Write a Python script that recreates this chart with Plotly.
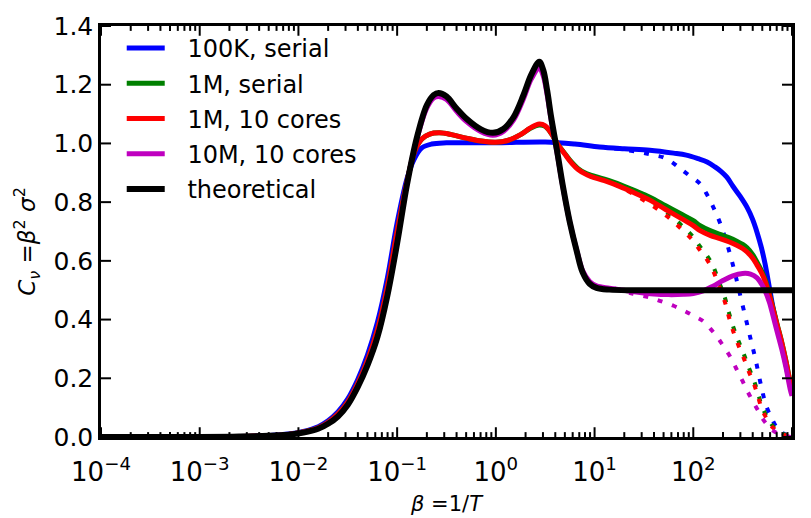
import numpy as np
import plotly.graph_objects as go

# ---------------- data: log10(beta) and C_v ----------------
th_logb = [-4.0, -3.0, -2.6, -2.3, -2.1, -1.95, -1.8, -1.7, -1.6, -1.5, -1.4, -1.3, -1.2, -1.1, -1.0, -0.9,
           -0.8, -0.7, -0.63, -0.58, -0.5, -0.4, -0.3, -0.15, -0.03, 0.08, 0.18, 0.28, 0.36, 0.44, 0.48,
           0.52, 0.56, 0.62, 0.68, 0.75, 0.82, 0.88, 0.95, 1.02, 1.15, 1.4, 2.0, 3.0]
th_cv = [0.0, 0.0003, 0.0015, 0.004, 0.008, 0.015, 0.028, 0.045, 0.07, 0.11, 0.17, 0.245, 0.34, 0.48, 0.66,
         0.86, 1.02, 1.13, 1.165, 1.172, 1.16, 1.12, 1.085, 1.048, 1.036, 1.05, 1.09, 1.165, 1.235, 1.278,
         1.25, 1.18, 1.09, 0.975, 0.853, 0.73, 0.632, 0.56, 0.522, 0.508, 0.502, 0.5, 0.5, 0.5]

m10_logb = [-4.0, -3.0, -2.6, -2.3, -2.1, -1.95, -1.8, -1.7, -1.6, -1.5, -1.4, -1.3, -1.2, -1.1, -1.0, -0.9,
            -0.8, -0.7, -0.63, -0.58, -0.5, -0.4, -0.3, -0.15, -0.03, 0.08, 0.18, 0.28, 0.36, 0.44, 0.48,
            0.52, 0.56, 0.62, 0.68, 0.75, 0.82, 0.88, 0.95, 1.02, 1.15, 1.3, 1.46, 1.6, 1.75, 1.9, 2.0,
            2.1, 2.2, 2.3, 2.4, 2.5, 2.58, 2.646, 2.7, 2.727, 2.77, 2.811, 2.85, 2.897, 2.94, 2.981, 3.0]
m10_cv = [0.0, 0.0003, 0.0016, 0.0042, 0.0085, 0.016, 0.029, 0.047, 0.072, 0.113, 0.174, 0.25, 0.345, 0.487,
          0.668, 0.865, 1.015, 1.12, 1.155, 1.16, 1.15, 1.11, 1.075, 1.04, 1.028, 1.042, 1.08, 1.152, 1.22,
          1.256, 1.23, 1.165, 1.08, 0.968, 0.85, 0.73, 0.635, 0.566, 0.53, 0.515, 0.507, 0.5, 0.492, 0.487,
          0.485, 0.486, 0.489, 0.498, 0.514, 0.533, 0.549, 0.557, 0.555, 0.542, 0.516, 0.498, 0.46, 0.409,
          0.358, 0.298, 0.235, 0.164, 0.14]
m10_dot_logb = [1.2, 1.39, 1.55, 1.66, 1.8, 1.93, 2.02, 2.1, 2.17, 2.24, 2.3, 2.37, 2.44, 2.5, 2.55, 2.606,
                2.66, 2.707, 2.78, 2.849, 2.92, 3.0]
m10_dot_cv = [0.506, 0.488, 0.476, 0.464, 0.447, 0.426, 0.41, 0.395, 0.37, 0.342, 0.312, 0.276, 0.23, 0.19,
              0.155, 0.12, 0.088, 0.06, 0.03, 0.013, 0.004, 0.0]

k100_logb = [-4.0, -3.0, -2.6, -2.3, -2.1, -1.95, -1.8, -1.7, -1.6, -1.5, -1.4, -1.3, -1.2, -1.1, -1.0, -0.9,
             -0.83, -0.75, -0.65, -0.5, 0.0, 0.5, 0.8, 1.05, 1.3, 1.56, 1.8, 1.93, 2.05, 2.14, 2.22, 2.28,
             2.34, 2.4, 2.47, 2.545, 2.6, 2.646, 2.69, 2.727, 2.77, 2.811, 2.85, 2.897, 2.94, 2.97, 3.0]
k100_cv = [0.0, 0.0005, 0.002, 0.005, 0.01, 0.019, 0.035, 0.055, 0.085, 0.13, 0.195, 0.28, 0.39, 0.54,
           0.73, 0.88, 0.945, 0.985, 0.998, 1.002, 1.002, 1.005, 0.998, 0.988, 0.982, 0.977, 0.967, 0.96,
           0.948, 0.937, 0.92, 0.905, 0.885, 0.855, 0.822, 0.782, 0.742, 0.697, 0.645, 0.59, 0.51, 0.435,
           0.375, 0.31, 0.245, 0.195, 0.165]
k100_dot_logb = [1.2, 1.46, 1.6, 1.7, 1.8, 1.87, 1.95, 2.07, 2.14, 2.2, 2.27, 2.34, 2.41, 2.46, 2.52, 2.58,
                 2.63, 2.69, 2.74, 2.8, 2.85, 2.9, 2.95, 3.0]
k100_dot_cv = [0.983, 0.97, 0.96, 0.952, 0.932, 0.914, 0.893, 0.862, 0.825, 0.785, 0.73, 0.66, 0.575, 0.505,
               0.42, 0.335, 0.265, 0.17, 0.105, 0.06, 0.03, 0.015, 0.006, 0.0]

m1c_logb = [-4.0, -3.0, -2.6, -2.3, -2.1, -1.95, -1.8, -1.7, -1.6, -1.5, -1.4, -1.3, -1.2, -1.1, -1.0, -0.9,
            -0.82, -0.75, -0.67, -0.57, -0.45, -0.3, -0.15, 0.0, 0.12, 0.25, 0.35, 0.44, 0.5, 0.56, 0.63,
            0.7, 0.77, 0.83, 0.9, 0.96, 1.1, 1.258, 1.4, 1.56, 1.72, 1.89, 2.0, 2.069, 2.17, 2.27, 2.36,
            2.44, 2.5, 2.542, 2.6, 2.643, 2.69, 2.727, 2.77, 2.811, 2.85, 2.897, 2.94, 2.981, 3.0]
m1c_cv = [0.0, 0.0004, 0.0018, 0.0045, 0.009, 0.017, 0.031, 0.05, 0.078, 0.12, 0.182, 0.262, 0.365, 0.51,
          0.7, 0.87, 0.975, 1.015, 1.032, 1.036, 1.03, 1.018, 1.008, 1.004, 1.01, 1.03, 1.053, 1.066, 1.06,
          1.035, 0.995, 0.963, 0.932, 0.912, 0.897, 0.888, 0.873, 0.853, 0.832, 0.807, 0.775, 0.742, 0.72,
          0.703, 0.687, 0.676, 0.665, 0.653, 0.642, 0.631, 0.61, 0.587, 0.56, 0.531, 0.483, 0.431, 0.38,
          0.32, 0.255, 0.187, 0.165]
m1c_dot_logb = [1.2, 1.3, 1.46, 1.6, 1.73, 1.83, 1.93, 2.0, 2.07, 2.14, 2.2, 2.27, 2.32, 2.36, 2.41, 2.46,
                2.51, 2.56, 2.61, 2.65, 2.69, 2.74, 2.81, 2.91, 3.0]
m1c_dot_cv = [0.862, 0.845, 0.814, 0.785, 0.753, 0.724, 0.692, 0.668, 0.635, 0.603, 0.567, 0.505, 0.46,
              0.41, 0.355, 0.31, 0.27, 0.225, 0.185, 0.145, 0.1, 0.065, 0.031, 0.009, 0.0]

m1s_logb = [-4.0, -3.0, -2.6, -2.3, -2.1, -1.95, -1.8, -1.7, -1.6, -1.5, -1.4, -1.3, -1.2, -1.1, -1.0, -0.9,
            -0.82, -0.75, -0.67, -0.57, -0.45, -0.3, -0.15, 0.0, 0.12, 0.25, 0.35, 0.44, 0.5, 0.56, 0.63,
            0.7, 0.77, 0.83, 0.9, 0.96, 1.1, 1.258, 1.4, 1.56, 1.72, 1.89, 2.0, 2.069, 2.17, 2.27, 2.36,
            2.44, 2.5, 2.542, 2.6, 2.643, 2.69, 2.727, 2.77, 2.811, 2.85, 2.897, 2.94, 2.981, 3.0]
m1s_cv = [0.0, 0.0004, 0.0018, 0.0045, 0.009, 0.017, 0.031, 0.05, 0.078, 0.12, 0.182, 0.262, 0.365, 0.51,
          0.7, 0.87, 0.975, 1.015, 1.032, 1.036, 1.03, 1.018, 1.008, 1.004, 1.01, 1.03, 1.052, 1.063, 1.058,
          1.035, 0.996, 0.965, 0.935, 0.915, 0.9, 0.892, 0.878, 0.86, 0.84, 0.817, 0.788, 0.757, 0.737,
          0.72, 0.703, 0.69, 0.679, 0.667, 0.656, 0.645, 0.622, 0.597, 0.567, 0.537, 0.488, 0.435, 0.383,
          0.322, 0.257, 0.188, 0.165]
m1s_dot_logb = [1.2, 1.3, 1.46, 1.6, 1.73, 1.83, 1.93, 2.0, 2.07, 2.14, 2.2, 2.27, 2.32, 2.36, 2.41, 2.46,
                2.51, 2.56, 2.61, 2.65, 2.69, 2.74, 2.81, 2.91, 3.0]
m1s_dot_cv = [0.864, 0.85, 0.822, 0.795, 0.765, 0.737, 0.705, 0.681, 0.648, 0.617, 0.582, 0.52, 0.475,
              0.425, 0.37, 0.325, 0.284, 0.238, 0.197, 0.156, 0.11, 0.073, 0.036, 0.011, 0.0]

x_major = [1e-4, 1e-3, 1e-2, 1e-1, 1e0, 1e1, 1e2, 1e3]
x_ticktext = ["10<sup>\u22124</sup>", "10<sup>\u22123</sup>", "10<sup>\u22122</sup>", "10<sup>\u22121</sup>",
              "10<sup>0</sup>", "10<sup>1</sup>", "10<sup>2</sup>", "10<sup>3</sup>"]
x_minor = [m * 10.0 ** e for e in range(-4, 3) for m in range(2, 10)]
y_major = [0.0, 0.2, 0.4, 0.6, 0.8, 1.0, 1.2, 1.4]

series = [
    ("100K, serial", "#0000FF", k100_logb, k100_cv, k100_dot_logb, k100_dot_cv),
    ("1M, serial", "#008000", m1s_logb, m1s_cv, m1s_dot_logb, m1s_dot_cv),
    ("1M, 10 cores", "#FF0000", m1c_logb, m1c_cv, m1c_dot_logb, m1c_dot_cv),
    ("10M, 10 cores", "#BF00BF", m10_logb, m10_cv, m10_dot_logb, m10_dot_cv),
]

pad = "\u00a0\u00a0\u200a"
fig = go.Figure()
for i, (name, col, lb, cv, dlb, dcv) in enumerate(series):
    fig.add_trace(go.Scatter(x=10 ** np.array(lb), y=cv, mode="lines", name=pad + name, legendgroup=f"g{i}",
                             line=dict(color=col, width=5, shape="spline", smoothing=1.0)))
    fig.add_trace(go.Scatter(x=10 ** np.array(dlb), y=dcv, mode="lines", showlegend=False, legendgroup=f"g{i}",
                             line=dict(color=col, width=4, dash="5px,10px", shape="spline", smoothing=1.0)))
fig.add_trace(go.Scatter(x=10 ** np.array(th_logb), y=th_cv, mode="lines", name=pad + "theoretical",
                         legendgroup="g9", line=dict(color="#000000", width=6, shape="spline", smoothing=1.0)))

# tick marks on all four sides, drawn inward (matplotlib classic style)
PW, PH = 691.0, 421.0
MAJ, MIN = 10.0, 5.0
tick_line = dict(color="black", width=2)
shapes = []
for v in x_major:
    for y0, y1 in [(0, MAJ / PH), (1, 1 - MAJ / PH)]:
        shapes.append(dict(type="line", xref="x", yref="y domain", x0=v, x1=v, y0=y0, y1=y1,
                           line=tick_line, layer="above"))
for v in x_minor:
    for y0, y1 in [(0, MIN / PH), (1, 1 - MIN / PH)]:
        shapes.append(dict(type="line", xref="x", yref="y domain", x0=v, x1=v, y0=y0, y1=y1,
                           line=tick_line, layer="above"))
for v in y_major:
    for x0, x1 in [(0, MAJ / PW), (1, 1 - MAJ / PW)]:
        shapes.append(dict(type="line", xref="x domain", yref="y", x0=x0, x1=x1, y0=v, y1=v,
                           line=tick_line, layer="above"))

fig.update_layout(
    width=811, height=518,
    margin=dict(l=101, r=19, t=16, b=81),
    paper_bgcolor="white", plot_bgcolor="white",
    font=dict(family="DejaVu Sans", size=24, color="black"),
    showlegend=True,
    legend=dict(x=0.03, y=1.0, xanchor="left", yanchor="top", bgcolor="rgba(0,0,0,0)",
                font=dict(size=24), itemwidth=38, tracegroupgap=1, traceorder="grouped"),
    xaxis=dict(type="log", range=[-4, 3], showgrid=False, zeroline=False, tickmode="array",
               tickvals=x_major, ticktext=x_ticktext, ticks="", showline=True, linewidth=2.5,
               linecolor="black", mirror=True, tickfont=dict(size=26), ticklabelstandoff=10),
    yaxis=dict(range=[0, 1.4], showgrid=False, zeroline=False, tickmode="array", tickvals=y_major,
               tickformat=".1f", ticks="", showline=True, linewidth=2.5, linecolor="black", mirror=True,
               tickfont=dict(size=25), ticklabelstandoff=0),
    shapes=shapes,
    annotations=[
        dict(text="<i>C</i><sub><i>\u03bd</i></sub> =<i>\u03b2</i><sup>2</sup> <i>\u03c3</i><sup>2</sup>",
             xref="paper", yref="paper", x=-0.107, y=0.475, xanchor="center", yanchor="middle",
             textangle=-90, showarrow=False, font=dict(size=23)),
        dict(text="<i>\u03b2</i> =1/<i>T</i>", xref="paper", yref="paper", x=0.5, y=-0.164,
             xanchor="center", yanchor="middle", showarrow=False, font=dict(size=21)),
    ],
)

fig.write_html("out.html")
